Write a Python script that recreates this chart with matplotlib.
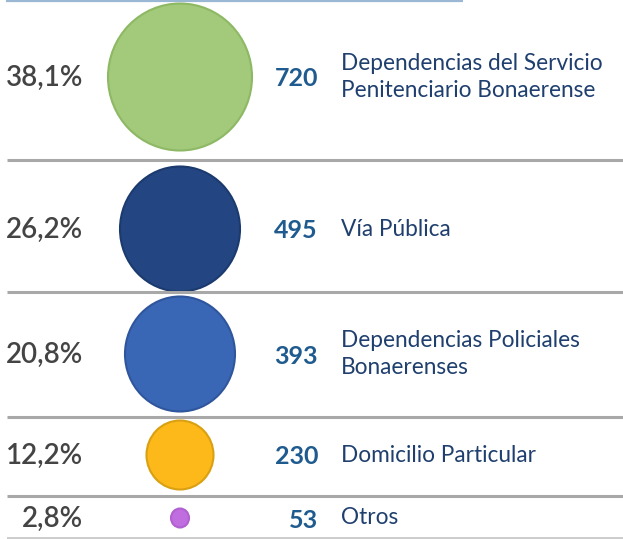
import matplotlib
matplotlib.use("Agg")
import matplotlib.pyplot as plt
from matplotlib.patches import Ellipse

# ---- data ----
categories = [
    "Dependencias del Servicio\nPenitenciario Bonaerense",
    "Vía Pública",
    "Dependencias Policiales\nBonaerenses",
    "Domicilio Particular",
    "Otros",
]
counts = [720, 495, 393, 230, 53]
percents = ["38,1%", "26,2%", "20,8%", "12,2%", "2,8%"]

# ---- style ----
fill_colors = ["#a3c97a", "#234682", "#3a67b5", "#fdb81a", "#c06de0"]
edge_colors = ["#8db864", "#1b3a6e", "#2f569c", "#d9a012", "#b060d0"]
bubble_w = [144, 120, 110, 67, 18]     # pixel diameters (styling)
bubble_h = [147, 125, 115, 69, 19]
row_y = [77, 229, 354, 455, 518]
sep_y = [160, 292, 417, 495.5]

W, H = 623, 539
fig = plt.figure(figsize=(W / 100, H / 100), dpi=100)
ax = fig.add_axes([0, 0, 1, 1])
ax.set_xlim(0, W)
ax.set_ylim(H, 0)
ax.axis("off")

font = "Lato"

# top light-blue line
ax.plot([6, 463], [0.8, 0.8], color="#9ab8d4", lw=1.6, solid_capstyle="butt")
# separators
for y in sep_y:
    ax.plot([7, W], [y, y], color="#a8a8a8", lw=2.2, solid_capstyle="butt")
ax.plot([7, W], [538, 538], color="#c4c4c4", lw=1.2, solid_capstyle="butt")

for i, (cat, n, p) in enumerate(zip(categories, counts, percents)):
    y = row_y[i]
    e = Ellipse((180, y), bubble_w[i], bubble_h[i], facecolor=fill_colors[i],
                edgecolor=edge_colors[i], lw=1.5)
    ax.add_patch(e)
    ax.text(83, y + 1, p, ha="right", va="center", fontsize=20,
            color="#444444", family=font, fontweight="semibold")
    ax.text(318, y + 2, str(n), ha="right", va="center", fontsize=18,
            color="#1f5b8e", family=font, fontweight="bold")
    ax.text(341, y, cat, ha="left", va="center", fontsize=16.3,
            color="#1f3f6e", family=font, linespacing=1.35)

fig.savefig("out.png", dpi=100)
